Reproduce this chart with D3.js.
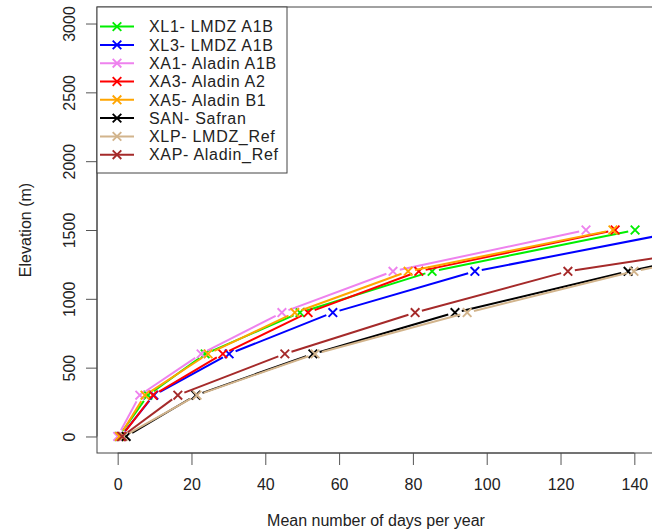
<!DOCTYPE html>
<html>
<head>
<meta charset="utf-8">
<script src="https://cdn.jsdelivr.net/npm/d3@7"></script>
<style>
  html, body { margin: 0; padding: 0; background: #fff; }
  svg { display: block; }
  text { font-family: "Liberation Sans", Arial, sans-serif; fill: #222; }
</style>
</head>
<body>
<svg id="chart" width="652" height="531"></svg>
<script>
// ---- Data ----
const elevations = [0, 300, 600, 900, 1200, 1500];
const seriesNames = ["XL1- LMDZ A1B", "XL3- LMDZ A1B", "XA1- Aladin A1B", "XA3- Aladin A2",
                     "XA5- Aladin B1", "SAN- Safran", "XLP- LMDZ_Ref", "XAP- Aladin_Ref"];
const seriesColors = ["#00ee00", "#0000ff", "#ee82ee", "#ff0000", "#ffa500", "#000000", "#d2b48c", "#a52a2a"];
const xl1 = [0.3, 8.2, 23.7, 49.4, 85.2, 140.2];
const xl3 = [0.8, 9.8, 30.2, 58.3, 96.8, 154.4];
const xa1 = [0.0, 6.0, 22.6, 44.5, 74.6, 126.9];
const xa3 = [1.0, 9.6, 28.5, 51.6, 81.6, 134.8];
const xa5 = [0.5, 7.4, 24.5, 48.0, 78.7, 134.2];
const san = [2.3, 21.2, 52.9, 91.4, 138.3, 192.0];
const xlp = [1.5, 21.5, 53.5, 94.7, 139.9, 196.0];
const xap = [1.2, 16.3, 45.3, 80.6, 122.0, 195.0];
const seriesValues = [xl1, xl3, xa1, xa3, xa5, san, xlp, xap];
const xTicks = [0, 20, 40, 60, 80, 100, 120, 140];
const yTicks = [0, 500, 1000, 1500, 2000, 2500, 3000];

// ---- Layout ----
const plotL = 97, plotR = 655, plotT = 7, plotB = 453;
const svg = d3.select("#chart");

const x = d3.scaleLinear().domain([-5.6, 145.6]).range([plotL, plotR]);
const y = d3.scaleLinear().domain([-120, 3120]).range([plotB, plotT]);

svg.append("defs").append("clipPath").attr("id", "clip")
  .append("rect").attr("x", plotL).attr("y", plotT)
  .attr("width", plotR - plotL).attr("height", plotB - plotT);

// Axes
const xAxis = d3.axisBottom(x).tickValues(xTicks).tickFormat(d3.format("d"))
  .tickSize(12).tickPadding(14).tickSizeOuter(0);
const gx = svg.append("g").attr("transform", `translate(0,${plotB})`).call(xAxis);
gx.select(".domain").attr("d", `M${x(0)},0H${x(140)}`).attr("stroke", "#444");
gx.selectAll(".tick line").attr("stroke", "#555");
gx.selectAll(".tick text").attr("font-size", 16).attr("fill", "#222")
  .attr("font-family", "Liberation Sans, Arial, sans-serif");

const yAxis = d3.axisLeft(y).tickValues(yTicks).tickFormat(d3.format("d"))
  .tickSize(11).tickSizeOuter(0);
const gy = svg.append("g").attr("transform", `translate(${plotL},0)`).call(yAxis);
gy.select(".domain").attr("d", `M0,${y(0)}V${y(3000)}`).attr("stroke", "#444");
gy.selectAll(".tick line").attr("stroke", "#555");
gy.selectAll(".tick text")
  .attr("font-size", 16).attr("fill", "#222")
  .attr("font-family", "Liberation Sans, Arial, sans-serif")
  .attr("text-anchor", "middle")
  .attr("x", null).attr("y", null)
  .attr("transform", "translate(-28,0) rotate(-90)")
  .attr("dy", "0.35em");

// Plot box
svg.append("rect").attr("x", plotL).attr("y", plotT)
  .attr("width", plotR - plotL).attr("height", plotB - plotT)
  .attr("fill", "none").attr("stroke", "#444").attr("stroke-width", 1);

// Axis titles
svg.append("text").attr("x", (plotL + plotR) / 2).attr("y", 526)
  .attr("text-anchor", "middle").attr("font-size", 16)
  .text("Mean number of days per year");
svg.append("text").attr("transform", `translate(31,${(plotT + plotB) / 2}) rotate(-90)`)
  .attr("text-anchor", "middle").attr("font-size", 16)
  .text("Elevation (m)");

// Series: type "b" (lines with gaps around points)
const gap = 7;
const plotG = svg.append("g").attr("clip-path", "url(#clip)");
function xMark(g, cx, cy, color) {
  const s = 4.3;
  g.append("path")
    .attr("d", `M${cx - s},${cy - s}L${cx + s},${cy + s}M${cx - s},${cy + s}L${cx + s},${cy - s}`)
    .attr("stroke", color).attr("stroke-width", 1.9).attr("fill", "none");
}
seriesValues.forEach((vals, i) => {
  const color = seriesColors[i];
  const g = plotG.append("g");
  const pts = vals.map((v, j) => [x(v), y(elevations[j])]);
  for (let j = 0; j < pts.length - 1; j++) {
    const [x0, y0] = pts[j], [x1, y1] = pts[j + 1];
    const L = Math.hypot(x1 - x0, y1 - y0);
    if (L <= 2 * gap) continue;
    const ux = (x1 - x0) / L, uy = (y1 - y0) / L;
    g.append("line")
      .attr("x1", x0 + ux * gap).attr("y1", y0 + uy * gap)
      .attr("x2", x1 - ux * gap).attr("y2", y1 - uy * gap)
      .attr("stroke", color).attr("stroke-width", 2);
  }
  pts.forEach(p => xMark(g, p[0], p[1], color));
});

// Legend
const lg = svg.append("g");
lg.append("rect").attr("x", plotL).attr("y", plotT).attr("width", 190).attr("height", 166)
  .attr("fill", "#fff").attr("stroke", "#444").attr("stroke-width", 1);
seriesNames.forEach((name, i) => {
  const cy = 26.6 + i * 18.3;
  lg.append("line").attr("x1", 100).attr("x2", 134).attr("y1", cy).attr("y2", cy)
    .attr("stroke", seriesColors[i]).attr("stroke-width", 2);
  xMark(lg, 117, cy, seriesColors[i]);
  lg.append("text").attr("x", 149).attr("y", cy).attr("dy", "0.36em")
    .attr("font-size", 16).attr("letter-spacing", "0.7px").text(name);
});
</script>
</body>
</html>
